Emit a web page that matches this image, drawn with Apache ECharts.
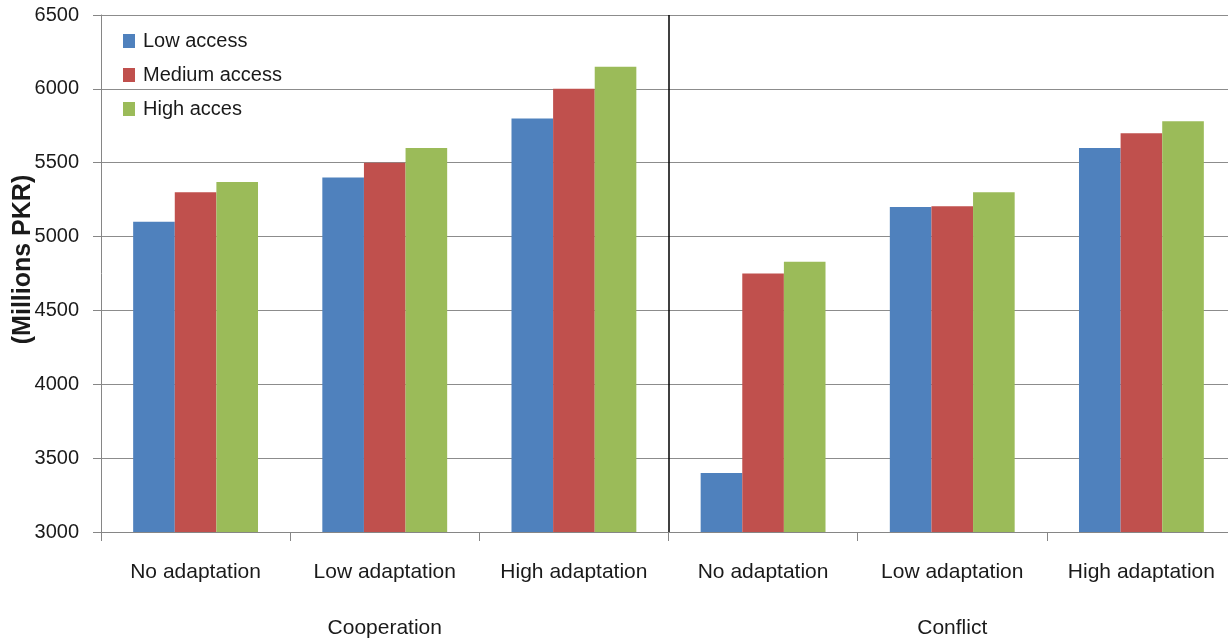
<!DOCTYPE html>
<html>
<head>
<meta charset="utf-8">
<script src="https://cdn.jsdelivr.net/npm/echarts@6/dist/echarts.min.js"></script>
<style>
  html, body { margin: 0; padding: 0; background: #fff; }
  #chart { width: 1228px; height: 644px; }
</style>
</head>
<body>
<div id="chart"></div>
<script>
  // data
  const categories = ['No adaptation', 'Low adaptation', 'High adaptation', 'No adaptation', 'Low adaptation', 'High adaptation'];
  const groups = ['Cooperation', 'Conflict'];
  const seriesNames = ['Low access', 'Medium access', 'High acces'];
  const lowAccess = [5100, 5400, 5800, 3400, 5200, 5600];
  const mediumAccess = [5300, 5500, 6000, 4750, 5205, 5700];
  const highAccess = [5370, 5600, 6150, 4830, 5300, 5780];
  const colors = ['#4f81bd', '#c0504d', '#9bbb59'];

  const font = "'Liberation Sans', Arial, sans-serif";
  const textColor = '#1a1a1a';
  const axisGrey = '#868686';

  const chart = echarts.init(document.getElementById('chart'));

  const option = {
    animation: false,
    color: colors,
    textStyle: { fontFamily: font },
    grid: { left: 101, right: -8, top: 15, bottom: 112, containLabel: false, outerBoundsMode: 'none' },
    legend: {
      orient: 'vertical',
      left: 123,
      top: 31,
      padding: 0,
      itemGap: 14,
      itemWidth: 12,
      itemHeight: 14,
      icon: 'rect',
      data: seriesNames,
      textStyle: { fontFamily: font, fontSize: 20, color: textColor, padding: [0, 0, 0, 3] },
    },
    xAxis: [
      {
        type: 'category',
        data: categories,
        position: 'bottom',
        axisLine: { show: true, lineStyle: { color: axisGrey, width: 1 } },
        axisTick: { show: true, length: 9, lineStyle: { color: axisGrey } },
        axisLabel: { fontFamily: font, fontSize: 21, color: textColor, margin: 30, interval: 0 },
        splitLine: { show: false },
      },
      {
        // divider between the two groups
        type: 'value',
        min: 0,
        max: 2,
        interval: 1,
        position: 'bottom',
        axisLine: { show: false },
        axisTick: { show: false },
        axisLabel: { show: false },
        splitLine: { show: true, showMinLine: false, showMaxLine: false, lineStyle: { color: '#000', width: 1.5 } },
      },
      {
        type: 'category',
        data: groups,
        position: 'bottom',
        axisLine: { show: false },
        axisTick: { show: false },
        axisLabel: { fontFamily: font, fontSize: 21, color: textColor, margin: 86 },
        splitLine: { show: false },
      },
    ],
    yAxis: {
      type: 'value',
      min: 3000,
      max: 6500,
      interval: 500,
      name: '(Millions PKR)',
      nameLocation: 'middle',
      nameGap: 65,
      nameRotate: 90,
      nameMoveOverlap: false,
      nameTextStyle: { fontFamily: font, fontWeight: 'bold', fontSize: 25, color: textColor, padding: [0, 0, 0, 28] },
      axisLine: { show: true, lineStyle: { color: axisGrey, width: 1 } },
      axisTick: { show: true, length: 8, lineStyle: { color: axisGrey } },
      axisLabel: { fontFamily: font, fontSize: 20, color: textColor, margin: 22, formatter: (v) => String(v) },
      splitLine: { show: true, lineStyle: { color: '#8c8c8c', width: 1 } },
    },
    series: [
      { name: seriesNames[0], type: 'bar', data: lowAccess, barGap: '0%', barCategoryGap: '34%' },
      { name: seriesNames[1], type: 'bar', data: mediumAccess, barGap: '0%', barCategoryGap: '34%' },
      { name: seriesNames[2], type: 'bar', data: highAccess, barGap: '0%', barCategoryGap: '34%' },
    ],
  };

  chart.setOption(option);
</script>
</body>
</html>
